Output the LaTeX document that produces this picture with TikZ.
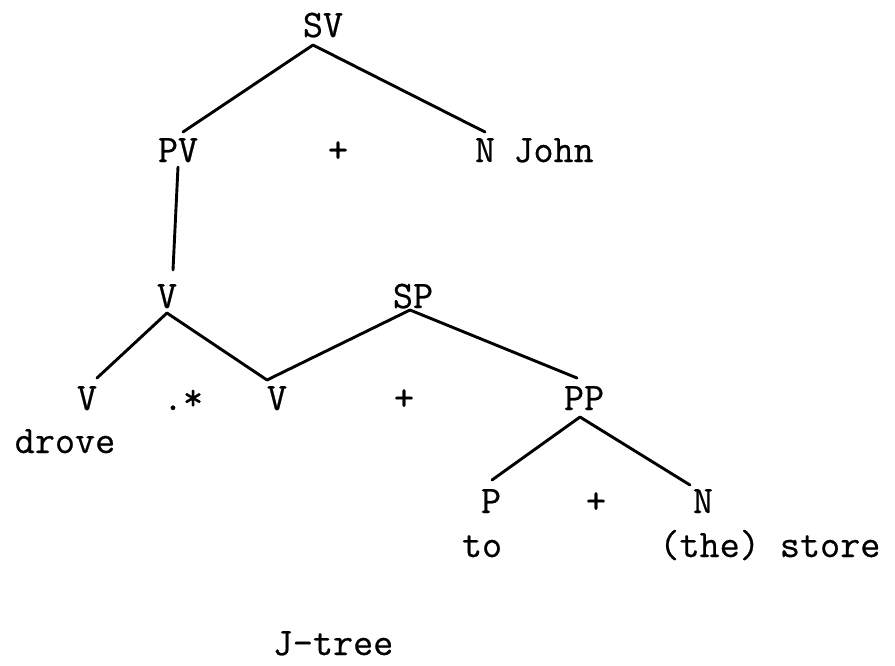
\documentclass[tikz,border=0pt]{standalone}
\usepackage{fontspec}
\newfontfamily\tw[FakeBold=0.6]{Latin Modern Mono}
\begin{document}
\begin{tikzpicture}[x=0.5pt,y=-0.5pt,
  lbl/.style={anchor=base,inner sep=0pt,font=\tw\fontsize{19.5}{22}\selectfont},
  edge/.style={line width=1.45pt,line cap=round}]
\useasboundingbox (0,0) rectangle (895,665);
% level 1
\node[lbl] (sv) at (323,37) {SV};
% level 2
\node[lbl] (pv) at (178,162) {PV};
\node[lbl] (plus1) at (338,162) {+};
\node[lbl] (n1) at (485,162) {N};
\node[lbl,anchor=base west] (john) at (513,162) {John};
% level 3
\node[lbl] (v3) at (167,308) {V};
\node[lbl] (sp) at (413,308) {SP};
% level 4
\node[lbl] (vl) at (87,410) {V};
\node[lbl] (dotstar) at (183,410) {.*};
\node[lbl] (vm) at (277,410) {V};
\node[lbl] (plus2) at (404,410) {+};
\node[lbl] (pp) at (584,410) {PP};
\node[lbl] (drove) at (65,453) {drove};
% level 5
\node[lbl] (p) at (491,513) {P};
\node[lbl] (plus3) at (596,513) {+};
\node[lbl] (n2) at (703,513) {N};
\node[lbl] (to) at (482,557) {to};
\node[lbl,anchor=base west] (store) at (659,557) {(the) store};
% caption
\node[lbl] (cap) at (333,655) {J-tree};
% connectors
\draw[edge] ([shift={(-10,8)}]sv.base) -- ([shift={(5,-30)}]pv.base);
\draw[edge] ([shift={(-10,8)}]sv.base) -- ([shift={(0,-30)}]n1.base);
\draw[edge] ([shift={(0,5)}]pv.base) -- ([shift={(6,-38)}]v3.base);
\draw[edge] ([shift={(0,5)}]v3.base) -- ([shift={(10,-32)}]vl.base);
\draw[edge] ([shift={(0,5)}]v3.base) -- ([shift={(-10,-30)}]vm.base);
\draw[edge] ([shift={(-3,2)}]sp.base) -- ([shift={(-10,-30)}]vm.base);
\draw[edge] ([shift={(-3,2)}]sp.base) -- ([shift={(-7,-32)}]pp.base);
\draw[edge] ([shift={(-4,7)}]pp.base) -- ([shift={(1,-33)}]p.base);
\draw[edge] ([shift={(-4,7)}]pp.base) -- ([shift={(-13,-28)}]n2.base);
\end{tikzpicture}
\end{document}
